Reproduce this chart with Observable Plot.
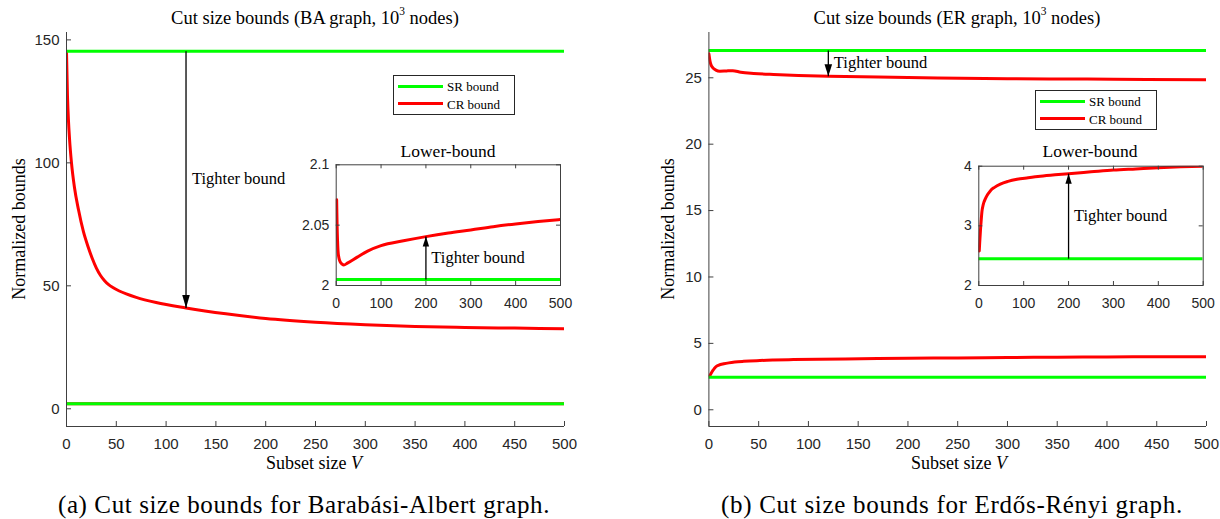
<!DOCTYPE html>
<html>
<head>
<meta charset="utf-8">
<script src="https://cdn.jsdelivr.net/npm/d3@7"></script>
<script src="https://cdn.jsdelivr.net/npm/@observablehq/plot@0.6"></script>
<style>
  html, body { margin: 0; padding: 0; background: #fff; }
  #root { position: relative; width: 1220px; height: 519px; background: #fff; overflow: hidden;
          font-family: "Liberation Serif", "DejaVu Serif", serif; color: #000; }
  .t { position: absolute; white-space: nowrap; transform: translate(-50%, -50%); line-height: 1; }
  .t sup { font-size: 0.62em; position: relative; top: -0.15em; vertical-align: super; line-height: 0; }
  .legend { position: absolute; border: 1px solid #262626; background: #fff; box-sizing: border-box; }
  .legend .ln { position: absolute; height: 3px; }
  .legend .lt { position: absolute; font-size: 13px; line-height: 1; transform: translateY(-50%); white-space: nowrap; }
</style>
</head>
<body>
<div id="root"></div>
<script>
// ---------------- data ----------------
const subsetRange = [0, 500];
const xTicksMain = [0, 50, 100, 150, 200, 250, 300, 350, 400, 450, 500];
const xTicksInset = [0, 100, 200, 300, 400, 500];
const baYTicks = [0, 50, 100, 150];
const erYTicks = [0, 5, 10, 15, 20, 25];
const baInsetYTicks = [2, 2.05, 2.1];
const erInsetYTicks = [2, 3, 4];

// Barabási-Albert: CR bound (upper branch)
const baCrUpperV = [0, 1, 2, 3, 5, 8, 12, 17, 22, 26, 30, 34, 38, 42, 47, 53, 60, 70, 90, 120, 160, 200, 250, 300, 350, 400, 450, 500];
const baCrUpperY = [145, 127, 117, 110, 100, 90, 81, 72, 65.5, 61, 57.2, 54.3, 52.2, 50.6, 49.2, 47.9, 46.7, 45.3, 43.2, 41, 38.6, 36.7, 35.2, 34.2, 33.5, 33.1, 32.8, 32.5];
// Barabási-Albert: CR bound (lower branch)
const baCrLowerV = [1, 1.5, 2, 3, 4, 6, 9, 13, 17, 25, 47, 70, 100, 150, 200, 250, 300, 350, 400, 450, 500];
const baCrLowerY = [2.071, 2.06, 2.05, 2.037, 2.029, 2.023, 2.0195, 2.0178, 2.017, 2.0185, 2.0235, 2.0285, 2.033, 2.037, 2.0405, 2.0435, 2.046, 2.0487, 2.051, 2.053, 2.0547];
// Barabási-Albert: SR bound (upper, lower)
const baSR = [145.4, 2.005];

// Erdős-Rényi: CR bound (upper branch)
const erCrUpperV = [0, 1, 2, 4, 7, 11, 18, 24, 32, 45, 65, 90, 120, 170, 230, 300, 380, 440, 500];
const erCrUpperY = [26.8, 26.3, 26.0, 25.75, 25.58, 25.5, 25.52, 25.53, 25.42, 25.33, 25.25, 25.18, 25.12, 25.05, 24.98, 24.93, 24.9, 24.87, 24.85];
// Erdős-Rényi: CR bound (lower branch)
const erCrLowerV = [1, 2, 3, 4, 5, 7, 10, 15, 20, 26, 35, 48, 65, 85, 110, 137, 170, 200, 250, 300, 350, 400, 450, 500];
const erCrLowerY = [2.58, 2.72, 2.84, 2.96, 3.06, 3.24, 3.36, 3.46, 3.53, 3.59, 3.645, 3.70, 3.745, 3.78, 3.805, 3.83, 3.855, 3.875, 3.905, 3.935, 3.955, 3.975, 3.99, 4.0];
// Erdős-Rényi: SR bound (upper, lower)
const erSR = [27.06, 2.45];

// annotations: arrow [V, from, to], note [V, y]
const baMainArrow = [120, 145.4, 41.0];
const baMainNote = [126, 93.5];
const baInsetArrow = [200, 2.005, 2.0405];
const baInsetNote = [212, 2.0234];
const erMainArrow = [120, 27.06, 25.12];
const erMainNote = [125.5, 26.13];
const erInsetArrow = [200, 2.45, 3.875];
const erInsetNote = [212, 3.174];

const noteText = "Tighter bound";

// ---------------- helpers ----------------
const toSeries = (vs, ys) => vs.map((v, i) => ({v, y: ys[i]}));
const AXIS = "#404040";
const TXT = "#262626";
const SERIF = "Liberation Serif";

function headSymbol(len, hw, dir) {
  return {draw(ctx) { ctx.moveTo(0, 0); ctx.lineTo(-hw, -dir * len); ctx.lineTo(hw, -dir * len); ctx.closePath(); }};
}

function panel(cfg) {
  const {w, h, ml, mr, mt, mb, yDomain, xTicks, yTicks, series, sr, arrow, note, inset, fontSize, padX, padY, tickLen, headLen, headHW, noteSize} = cfg;
  const iw = w - ml - mr, ih = h - mt - mb;
  const marks = [];
  if (inset) marks.push(Plot.frame({fill: "white", stroke: null}));
  for (const s of series) {
    marks.push(Plot.line(s, {x: "v", y: "y", stroke: "#ff0000", strokeWidth: 3, curve: "monotone-x", clip: true}));
  }
  marks.push(Plot.ruleY(sr, {y: d => d, x1: () => subsetRange[0], x2: () => subsetRange[1], stroke: "#00ff00", strokeWidth: 3, clip: true}));
  // ticks (inward)
  marks.push(Plot.tickX(xTicks, {x: d => d, insetTop: ih - tickLen, stroke: AXIS}));
  marks.push(Plot.tickY(yTicks, {y: d => d, insetRight: iw - tickLen, stroke: AXIS}));
  if (inset) {
    marks.push(Plot.tickX(xTicks, {x: d => d, insetBottom: ih - tickLen, stroke: AXIS}));
    marks.push(Plot.tickY(yTicks, {y: d => d, insetLeft: iw - tickLen, stroke: AXIS}));
    marks.push(Plot.frame({stroke: AXIS, strokeWidth: 1}));
  } else {
    marks.push(Plot.ruleX([subsetRange[0]], {stroke: AXIS}));
    marks.push(Plot.ruleY([yDomain[0]], {stroke: AXIS}));
  }
  marks.push(Plot.axisX(xTicks, {tickSize: 0, tickPadding: padX, label: null, tickFormat: d => String(d), fill: TXT, fontSize}));
  marks.push(Plot.axisY(yTicks, {tickSize: 0, tickPadding: padY, label: null, tickFormat: d => String(d), fill: TXT, fontSize}));
  // annotation arrow
  const dir = arrow[2] < arrow[1] ? 1 : -1;
  marks.push(Plot.link([arrow], {x1: d => d[0], y1: d => d[1], x2: d => d[0], y2: d => d[2], stroke: "#000", strokeWidth: 1.3}));
  marks.push(Plot.dot([arrow], {x: d => d[0], y: d => d[2], symbol: headSymbol(headLen, headHW, dir), fill: "#000", stroke: "none"}));
  marks.push(Plot.text([note], {x: d => d[0], y: d => d[1], text: () => noteText, textAnchor: "start", fontFamily: SERIF, fontSize: noteSize, fill: "#000"}));

  const svg = Plot.plot({
    width: w, height: h,
    marginLeft: ml, marginRight: mr, marginTop: mt, marginBottom: mb,
    x: {domain: subsetRange},
    y: {domain: yDomain},
    style: {fontFamily: "Liberation Sans", fontSize: fontSize + "px", background: "transparent", overflow: "visible", color: TXT},
    marks
  });
  svg.style.position = "absolute";
  svg.style.left = cfg.left + "px";
  svg.style.top = cfg.top + "px";
  return svg;
}

const root = document.getElementById("root");
function addText(html, x, y, size, extra = "") {
  const d = document.createElement("div");
  d.className = "t";
  d.innerHTML = html;
  d.style.left = x + "px";
  d.style.top = y + "px";
  d.style.fontSize = size + "px";
  if (extra) d.style.cssText += extra;
  root.appendChild(d);
}
function addLegend(x, y) {
  const L = document.createElement("div");
  L.className = "legend";
  L.style.left = x + "px"; L.style.top = y + "px";
  L.style.width = "122px"; L.style.height = "40px";
  const items = [["SR bound", "#00ff00", 10.7], ["CR bound", "#ff0000", 28.3]];
  for (const [label, color, cy] of items) {
    const ln = document.createElement("div");
    ln.className = "ln"; ln.style.background = color;
    ln.style.left = "4px"; ln.style.width = "45px"; ln.style.top = (cy - 2) + "px";
    L.appendChild(ln);
    const lt = document.createElement("div");
    lt.className = "lt"; lt.textContent = label;
    lt.style.left = "53px"; lt.style.top = (cy - 0.5) + "px";
    L.appendChild(lt);
  }
  root.appendChild(L);
}

// ---------------- BA panel ----------------
root.appendChild(panel({
  left: 0, top: 0, w: 610, h: 480, ml: 66, mr: 46, mt: 32, mb: 54,
  yDomain: [-7.2, 153], xTicks: xTicksMain, yTicks: baYTicks,
  series: [toSeries(baCrLowerV, baCrLowerY), toSeries(baCrUpperV, baCrUpperY)],
  sr: baSR, arrow: baMainArrow, note: baMainNote, inset: false,
  fontSize: 15, padX: 12, padY: 7, tickLen: 5, headLen: 13, headHW: 3.8, noteSize: 16.5
}));
root.appendChild(panel({
  left: 290, top: 140, w: 290, h: 170, ml: 45.7, mr: 20, mt: 24.3, mb: 25,
  yDomain: [2, 2.1], xTicks: xTicksInset, yTicks: baInsetYTicks,
  series: [toSeries(baCrLowerV, baCrLowerY)],
  sr: [baSR[1]], arrow: baInsetArrow, note: baInsetNote, inset: true,
  fontSize: 14, padX: 13, padY: 7, tickLen: 4, headLen: 10, headHW: 3.2, noteSize: 16.5
}));

// ---------------- ER panel ----------------
root.appendChild(panel({
  left: 640, top: 0, w: 580, h: 480, ml: 68.4, mr: 14, mt: 32, mb: 54,
  yDomain: [-1.26, 28.41], xTicks: xTicksMain, yTicks: erYTicks,
  series: [toSeries(erCrLowerV, erCrLowerY), toSeries(erCrUpperV, erCrUpperY)],
  sr: erSR, arrow: erMainArrow, note: erMainNote, inset: false,
  fontSize: 15, padX: 12, padY: 7, tickLen: 5, headLen: 12, headHW: 3.8, noteSize: 16.5
}));
root.appendChild(panel({
  left: 930, top: 140, w: 290, h: 170, ml: 48.3, mr: 17.3, mt: 25.7, mb: 25,
  yDomain: [2, 4], xTicks: xTicksInset, yTicks: erInsetYTicks,
  series: [toSeries(erCrLowerV, erCrLowerY)],
  sr: [erSR[1]], arrow: erInsetArrow, note: erInsetNote, inset: true,
  fontSize: 14, padX: 13, padY: 7, tickLen: 4, headLen: 10, headHW: 3.2, noteSize: 16.5
}));

// ---------------- texts ----------------
addText("Cut size bounds (BA graph, 10<sup>3</sup> nodes)", 315, 18, 18.5);
addText("Cut size bounds (ER graph, 10<sup>3</sup> nodes)", 957, 18, 18.5);
addText("Lower-bound", 448, 152, 17.5);
addText("Lower-bound", 1090, 152, 17.5);
addText("Subset size <i>V</i>", 314, 463, 18);
addText("Subset size <i>V</i>", 959, 463, 18);
addText("Normalized bounds", 19, 229, 18, "transform: translate(-50%,-50%) rotate(-90deg);");
addText("Normalized bounds", 668, 229, 18, "transform: translate(-50%,-50%) rotate(-90deg);");
addText("(a) Cut size bounds for Barabási-Albert graph.", 304, 504, 25, "letter-spacing: 0.6px;");
addText("(b) Cut size bounds for Erdős-Rényi graph.", 952, 504, 25, "letter-spacing: 0.7px;");
addLegend(393, 75);
addLegend(1035, 90);
</script>
</body>
</html>
